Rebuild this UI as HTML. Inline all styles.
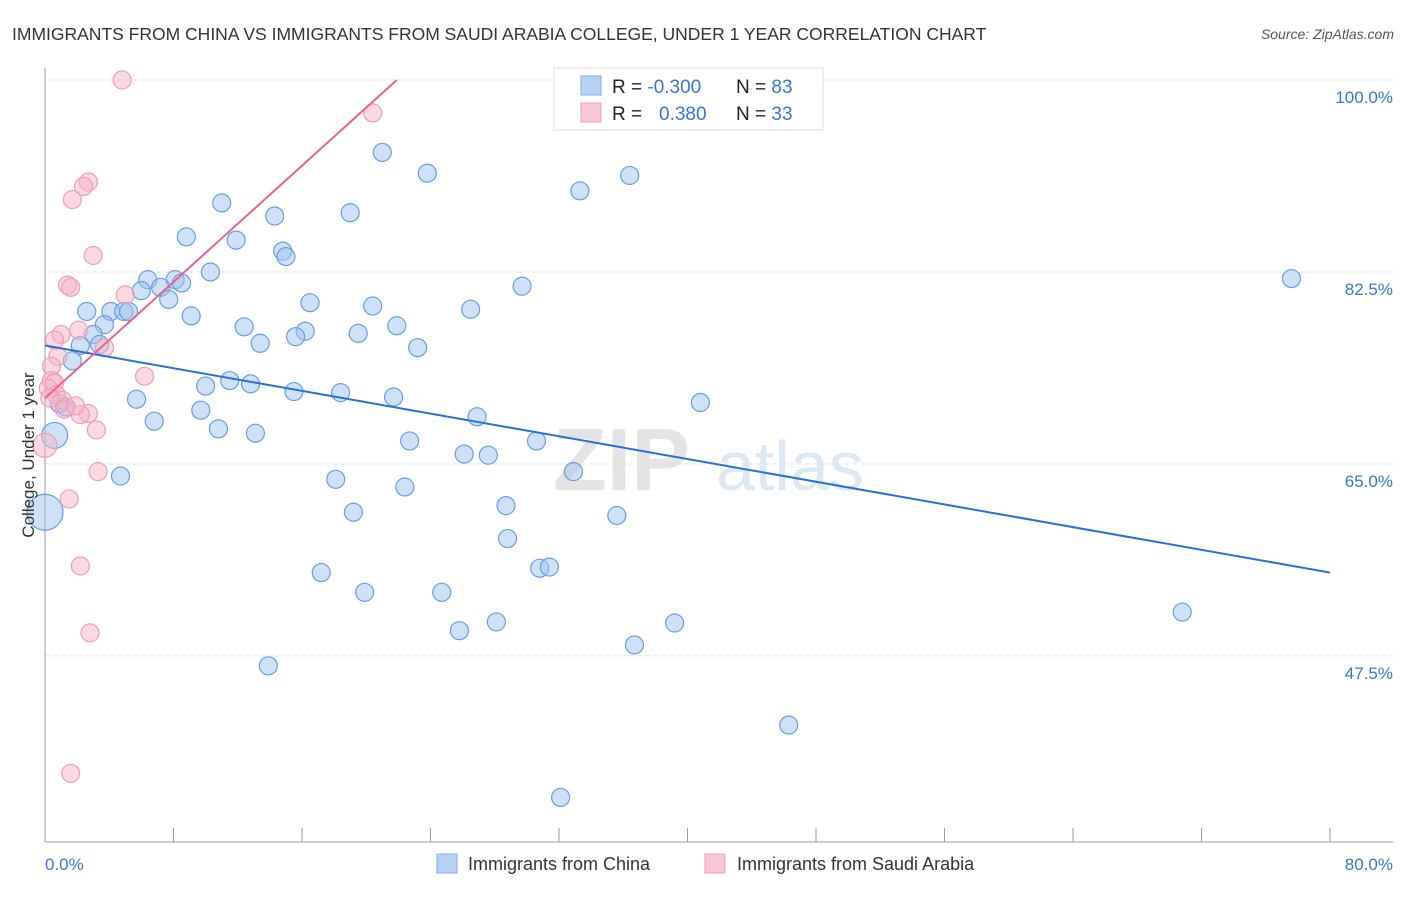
<!DOCTYPE html>
<html><head><meta charset="utf-8"><style>
body{margin:0;background:#fff;font-family:"Liberation Sans",sans-serif;}
svg text{font-family:"Liberation Sans",sans-serif;}
</style></head><body>
<svg id="chart" width="1406" height="892" xmlns="http://www.w3.org/2000/svg">
<text x="12" y="40" font-size="17.5" fill="#333">IMMIGRANTS FROM CHINA VS IMMIGRANTS FROM SAUDI ARABIA COLLEGE, UNDER 1 YEAR CORRELATION CHART</text>
<text x="1394" y="39" font-size="14" fill="#555" font-style="italic" text-anchor="end">Source: ZipAtlas.com</text>
<g><text x="553" y="490" font-size="88" fill="#e4e4e4" font-family="Liberation Serif" font-weight="bold">ZIP</text><text x="716" y="490" font-size="70" fill="#dde8f5">atlas</text></g>
<g id="grid"></g>
<g id="axes"></g>
<g id="pts"></g>
<g id="trends"></g>
<text transform="translate(34,455) rotate(-90)" font-size="17" fill="#333" text-anchor="middle">College, Under 1 year</text>
<text x="45" y="870" font-size="17" fill="#3a74d1">0.0%</text>
<text x="1393" y="870" font-size="17" fill="#3a74d1" text-anchor="end">80.0%</text>
<g>
<rect x="554" y="68" width="269" height="62" fill="#fff" stroke="#ddd"/>
<rect x="581" y="76" width="20" height="19" fill="#b8d2f5" stroke="#7fa9e6"/>
<rect x="581" y="103" width="20" height="19" fill="#f9c6d6" stroke="#ee9db6"/>
<text x="612" y="93" font-size="19" fill="#222">R = <tspan fill="#3a74d1">-0.300</tspan></text>
<text x="736" y="93" font-size="19" fill="#222">N = <tspan fill="#3a74d1">83</tspan></text>
<text x="612" y="120" font-size="19" fill="#222">R = <tspan fill="#3a74d1" x="659">0.380</tspan></text>
<text x="736" y="120" font-size="19" fill="#222">N = <tspan fill="#3a74d1">33</tspan></text>
</g>
<g><rect x="437" y="854" width="20" height="19" fill="#b8d2f5" stroke="#7fa9e6"/><text x="468" y="870" font-size="18" fill="#333">Immigrants from China</text></g>
<g><rect x="705" y="854" width="20" height="19" fill="#f9c6d6" stroke="#ee9db6"/><text x="737" y="870" font-size="18" fill="#333">Immigrants from Saudi Arabia</text></g>
</svg>
<script>
const yTicks=[100,82.5,65,47.5];
const yTickLabels=["100.0%","82.5%","65.0%","47.5%"];
const xTicks=[0,8,16,24,32,40,48,56,64,72,80];
const chinaX=[21.0,23.8,36.4,33.3,11.0,14.3,19.0,8.8,11.9,14.8,15.0,10.3,6.4,8.1,7.2,8.5,6.0,29.7,77.6,7.7,16.5,20.4,26.5,2.6,4.1,4.9,5.2,9.1,3.7,12.4,21.9,16.2,19.5,3.0,15.6,13.4,2.2,3.4,23.2,1.7,11.5,10.0,12.8,15.5,18.4,21.7,5.7,40.8,0.9,1.3,9.7,26.9,6.8,10.8,13.1,0.6,22.7,30.6,26.1,27.6,32.9,4.7,18.1,22.4,0.0,19.2,28.7,35.6,28.8,17.2,30.8,31.4,19.9,24.7,70.8,28.1,39.2,25.8,36.7,13.9,46.3,32.1,34.4];
const chinaY=[93.4,91.5,91.3,89.9,88.8,87.6,87.9,85.7,85.4,84.4,83.9,82.5,81.8,81.8,81.1,81.5,80.8,81.2,81.9,80.0,79.7,79.4,79.1,78.9,78.9,78.9,78.9,78.5,77.7,77.5,77.6,77.1,76.9,76.8,76.6,76.0,75.8,75.9,75.6,74.4,72.6,72.1,72.3,71.6,71.5,71.1,70.9,70.6,70.5,70.2,69.9,69.3,68.9,68.2,67.8,67.6,67.1,67.1,65.9,65.8,64.3,63.9,63.6,62.9,60.6,60.6,61.2,60.3,58.2,55.1,55.5,55.6,53.3,53.3,51.5,50.6,50.5,49.8,48.5,46.6,41.2,34.6,98.2];
const chinaR=chinaX.map((x,i)=>i===55?13:(i===64?18:9));
const saudiX=[4.8,20.4,2.7,2.4,1.7,3.0,1.4,1.6,5.0,1.0,2.1,0.6,3.7,0.8,0.4,6.2,0.4,0.6,0.2,0.7,1.1,2.7,2.2,1.2,3.2,0.0,3.3,1.5,2.2,2.8,1.6,0.3,1.9];
const saudiY=[100,97.0,90.7,90.3,89.1,84.0,81.3,81.1,80.4,76.8,77.2,76.3,75.6,74.8,73.9,73.0,72.6,72.4,71.9,71.3,70.8,69.6,69.5,70.0,68.1,66.7,64.3,61.8,55.7,49.6,36.8,71.0,70.3];
const trendChina=[[0,75.8],[80,55.1]];
const trendSaudi=[[0,71.0],[21.9,100]];
const X0=45,X1=1330,Y0=80,PXPER=10.97;
const sx=v=>X0+(v/80)*(X1-X0);
const sy=v=>Y0+(100-v)*PXPER;
const NS="http://www.w3.org/2000/svg";
function mk(tag,attrs,parent){const e=document.createElementNS(NS,tag);for(const k in attrs)e.setAttribute(k,attrs[k]);parent.appendChild(e);return e;}
const grid=document.getElementById('grid'),axes=document.getElementById('axes'),pts=document.getElementById('pts'),tr=document.getElementById('trends');
yTicks.forEach((t,i)=>{
 const l=mk('line',{x1:45,x2:1393,y1:sy(t),y2:sy(t),stroke:'#ddd','stroke-dasharray':'4,4'},grid);
 
 
 const tx=mk('text',{x:1393,y:sy(t)+23,'font-size':17,fill:'#3a74d1','text-anchor':'end'},grid);
 tx.textContent=yTickLabels[i];
 
 
});
mk('line',{x1:45,x2:45,y1:68,y2:842,stroke:'#999'},axes);
mk('line',{x1:45,x2:1393,y1:842,y2:842,stroke:'#999'},axes);
xTicks.forEach(t=>{
 const l=mk('line',{x1:sx(t),x2:sx(t),y1:828,y2:842,stroke:'#999'},axes);
 
 
});
chinaX.forEach((x,i)=>{
 const c=mk('circle',{cx:sx(x),cy:sy(chinaY[i]),r:chinaR[i],fill:'rgba(160,195,240,0.5)',stroke:'#6a9de0','stroke-width':1.2},pts);
 
 
});
saudiX.forEach((x,i)=>{
 const c=mk('circle',{cx:sx(x),cy:sy(saudiY[i]),r:i===25?12:9,fill:'rgba(248,180,200,0.5)',stroke:'#ee9db6','stroke-width':1.2},pts);
 
 
});
const l1=mk('line',{x1:sx(trendChina[0][0]),y1:sy(trendChina[0][1]),x2:sx(trendChina[1][0]),y2:sy(trendChina[1][1]),stroke:'#2a6fd6','stroke-width':2},tr);


const l2=mk('line',{x1:sx(trendSaudi[0][0]),y1:sy(trendSaudi[0][1]),x2:sx(trendSaudi[1][0]),y2:sy(trendSaudi[1][1]),stroke:'#e8628e','stroke-width':2},tr);


</script>
</body></html>
